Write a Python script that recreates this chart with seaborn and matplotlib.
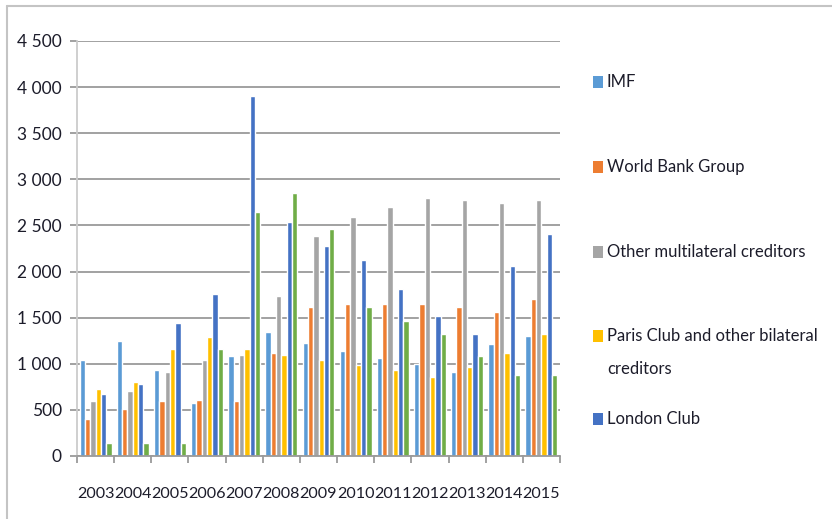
import numpy as np
import pandas as pd
import seaborn as sns
import matplotlib.pyplot as plt
from matplotlib.lines import Line2D
from matplotlib.patches import Rectangle
from matplotlib.ticker import FuncFormatter, FixedLocator

# data (debt service by creditor, 2003-2015)
years = [str(y) for y in range(2003, 2016)]
imf = [1040, 1250, 930, 580, 1080, 1340, 1230, 1135, 1065, 1000, 915, 1210, 1305]
world_bank = [400, 505, 600, 605, 600, 1115, 1615, 1650, 1650, 1650, 1615, 1560, 1705]
other_multilateral = [600, 710, 915, 1040, 1100, 1740, 2385, 2590, 2700, 2795, 2775, 2740, 2775]
paris_club = [730, 805, 1155, 1285, 1155, 1100, 1040, 990, 930, 855, 970, 1115, 1320]
london_club = [675, 785, 1445, 1760, 3900, 2535, 2275, 2130, 1815, 1520, 1320, 2055, 2410]
other_green = [140, 140, 140, 1155, 2645, 2850, 2465, 1615, 1465, 1320, 1080, 880, 880]

series_names = ["IMF", "World Bank Group", "Other multilateral creditors",
                "Paris Club and other bilateral\ncreditors", "London Club", "Other"]
legend_names = series_names[:5]  # the green series is cut off in the original legend
colors = ["#5B9BD5", "#ED7D31", "#A5A5A5", "#FFC000", "#4472C4", "#70AD47"]

df = pd.DataFrame({
    "year": years * 6,
    "creditor": np.repeat(series_names, len(years)),
    "value": imf + world_bank + other_multilateral + paris_club + london_club + other_green,
})

sns.set_style("white")
plt.rcParams["font.family"] = ["Lato", "DejaVu Sans"]
text_color = "#1c1c2a"

fig = plt.figure(figsize=(8.32, 5.19), dpi=100)
ax = fig.add_axes([77 / 832, 1 - 456 / 519, (560 - 77) / 832, (456 - 41) / 519])

sns.barplot(data=df, x="year", y="value", hue="creditor", hue_order=series_names,
            palette=colors, saturation=1, width=0.86, gap=0, legend=False, ax=ax)

ax.set_ylim(0, 4500)
ax.set_xlim(-0.5, len(years) - 0.5)
ax.set_yticks(np.arange(0, 4501, 500))
ax.yaxis.set_major_formatter(FuncFormatter(lambda v, p: f"{v:,.0f}".replace(",", " ")))
ax.grid(axis="y", color="#9a9a9a", linewidth=1.3)
ax.set_axisbelow(True)
ax.set_xlabel("")
ax.set_ylabel("")

for s in ["top", "right"]:
    ax.spines[s].set_visible(False)
ax.spines["left"].set_color("#cccccc")
ax.spines["left"].set_linewidth(1.3)
ax.spines["bottom"].set_color("#9a9a9a")
ax.spines["bottom"].set_linewidth(1.3)

ax.tick_params(axis="y", left=True, length=5, width=1.3, color="#9a9a9a",
               labelsize=12.5, labelcolor=text_color, pad=6)
ax.tick_params(axis="x", which="major", length=0, labelsize=11.6,
               labelcolor=text_color, pad=22)
ax.xaxis.set_minor_locator(FixedLocator(np.arange(-0.5, len(years), 1)))
ax.tick_params(axis="x", which="minor", bottom=True, length=5, width=1.3, color="#9a9a9a")

# legend drawn by hand so the marker sits on the first line like the original
legend_y = [82, 167, 252, 336, 419]
for name, col, yp in zip(legend_names, colors, legend_y):
    fig.patches.append(Rectangle((593 / 832, 1 - (yp + 6) / 519), 10 / 832, 12 / 519,
                                 transform=fig.transFigure, facecolor=col,
                                 edgecolor="none"))
    fig.text(607 / 832, 1 - (yp - 8) / 519, name, fontsize=12, color=text_color,
             va="top", ha="left", linespacing=2.3)

# chart frame (top and left edges visible in the original crop)
fig.add_artist(Line2D([7 / 832, 1], [1 - 6 / 519, 1 - 6 / 519],
                      transform=fig.transFigure, color="#c4c4c4", linewidth=1.5))
fig.add_artist(Line2D([7 / 832, 7 / 832], [0, 1 - 6 / 519],
                      transform=fig.transFigure, color="#c4c4c4", linewidth=1.5))

fig.savefig("out.png", dpi=100)
